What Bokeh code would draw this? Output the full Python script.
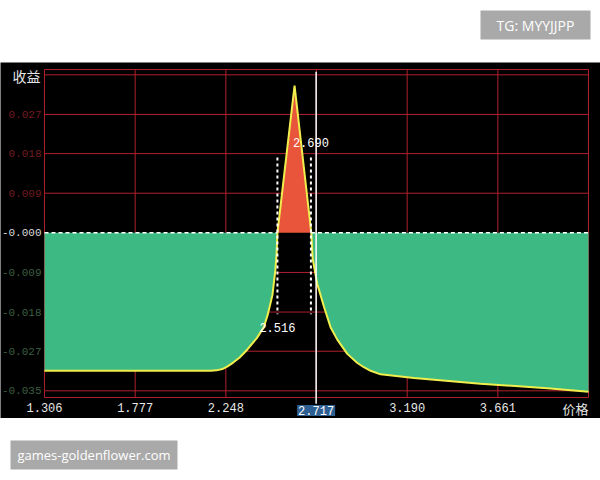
from bokeh.plotting import figure
from bokeh.models import Range1d, Label
from bokeh.layouts import column
from bokeh.embed import file_html
from bokeh.resources import INLINE
from bokeh.core.properties import value

# ---------------- data ----------------
price = [1.306, 2.100, 2.168, 2.200, 2.230, 2.257, 2.288, 2.320, 2.360, 2.410,
         2.445, 2.465, 2.490, 2.505, 2.512, 2.516, 2.605, 2.692, 2.699, 2.723,
         2.757, 2.792, 2.827, 2.879, 2.930, 2.965, 3.000, 3.052, 3.225, 3.571,
         3.918, 4.132]
profit = [-0.0310, -0.0310, -0.0310, -0.0309, -0.0306, -0.0300, -0.0291, -0.0280, -0.0262, -0.0236,
          -0.0212, -0.0185, -0.0140, -0.0085, -0.0045, 0.0000, 0.0331, 0.0000, -0.0058, -0.0115,
          -0.0165, -0.0212, -0.0240, -0.0272, -0.0292, -0.0302, -0.0310, -0.0318, -0.0326, -0.0339,
          -0.0349, -0.0357]
break_even = [2.516, 2.690]
current_price = 2.717
x_ticks = [1.306, 1.777, 2.248, 2.719, 3.190, 3.661, 4.132]
x_tick_labels = ["1.306", "1.777", "2.248", "", "3.190", "3.661", ""]
y_ticks = [0.0266, 0.0178, 0.0089, 0.0, -0.0089, -0.0178, -0.0266, -0.0355]
y_tick_labels = ["0.027", "0.018", "0.009", "-0.000", "-0.009", "-0.018", "-0.027", "-0.035"]
y_grid = [0.0367, 0.0355, 0.0266, 0.0178, 0.0089, -0.0089, -0.0178, -0.0266, -0.0355, -0.0370]
y_top, y_bottom = y_grid[0], y_grid[-1]     # chart box limits (profit)

# ---------------- style ----------------
GRID = "#b0202c"
GREEN = "#3dba84"
RED = "#e9553b"
YELLOW = "#f0ee4c"
MONO = "Liberation Mono"
CJK = "Noto Sans CJK SC"
XPX = 0.471 / 90.667      # price units per pixel
YPX = 1 / 4450.0          # profit units per pixel
x0, x1 = x_ticks[0], x_ticks[-1]

# black band: 600 x 356 px, chart box inside it
p = figure(width=600, height=356,
           x_range=Range1d(x0 - 44 * XPX, x1 + 12 * XPX),
           y_range=Range1d(y_bottom - 21 * YPX, y_top + 7 * YPX),
           output_backend="svg", toolbar_location=None, title=None,
           x_axis_location=None, y_axis_location=None, min_border=0,
           min_border_left=0, min_border_right=0, min_border_top=0, min_border_bottom=0,
           background_fill_color="black", border_fill_color="black",
           outline_line_color=None)
p.grid.visible = False

# grid lines limited to the chart box
p.segment(x0=[x0] * len(y_grid), x1=[x1] * len(y_grid), y0=y_grid, y1=y_grid,
          line_color=GRID, line_width=1)
p.segment(x0=x_ticks, x1=x_ticks, y0=[y_bottom] * len(x_ticks), y1=[y_top] * len(x_ticks),
          line_color=GRID, line_width=1)

# fills and curve
neg = [min(v, 0.0) for v in profit]
pos = [max(v, 0.0) for v in profit]
p.varea(x=price, y1=0, y2=neg, fill_color=GREEN)
p.varea(x=price, y1=0, y2=pos, fill_color=RED)
p.line(price, profit, line_color=YELLOW, line_width=2)

# zero dashed line over the loss area
p.segment(x0=[x0, break_even[1]], x1=[break_even[0], x1], y0=0, y1=0,
          line_color="white", line_width=1.5, line_dash="4 3")

# break-even markers
p.segment(x0=break_even, x1=break_even, y0=0.0169, y1=-0.0183,
          line_color="white", line_width=2, line_dash="3 3")
p.text(x=break_even, y=[-0.0212, 0.0202], text=[f"{v:.3f}" for v in break_even],
       text_align="center", text_baseline="middle", text_color="white",
       text_font=value(MONO), text_font_size="12px")

# current price line and highlighted label
p.segment(x0=[current_price], x1=[current_price], y0=0.0362, y1=-0.0384,
          line_color="white", line_width=1.5)
p.add_layout(Label(x=current_price, y=-0.03993, text=f"{current_price:.3f}",
                   text_align="center", text_baseline="middle", text_color="white",
                   text_font=MONO, text_font_size="12px",
                   background_fill_color="#2e5f92", padding=1))

# x tick labels
xl = [(t, l) for t, l in zip(x_ticks, x_tick_labels) if l]
p.text(x=[t for t, _ in xl], y=[-0.03926] * len(xl), text=[l for _, l in xl],
       text_align="center", text_baseline="middle", text_color="#e8e8e8",
       text_font=value(MONO), text_font_size="12px")

# y tick labels coloured by sign
ycolors = ["#741c22" if t > 0 else ("#dcdcdc" if t == 0 else "#3c5e40") for t in y_ticks]
p.text(x=[x0] * len(y_ticks), y=y_ticks, text=y_tick_labels, x_offset=-3,
       text_align="right", text_baseline="middle", text_color=ycolors,
       text_font=value(MONO), text_font_size="11px")

# axis names
p.text(x=[x0], y=[0.03524], text=["收益"], x_offset=-4, text_align="right",
       text_baseline="middle", text_color="#e6e6e6", text_font=value(CJK),
       text_font_size="14px")
p.text(x=[x1], y=[-0.03948], text=["价格"], text_align="right",
       text_baseline="middle", text_color="#e6e6e6", text_font=value(CJK),
       text_font_size="13px")


def deco(ytop, ybot):
    f = figure(width=600, height=62, x_range=Range1d(0, 600), y_range=Range1d(ybot, ytop),
               output_backend="svg", toolbar_location=None, title=None,
               x_axis_location=None, y_axis_location=None, min_border=0,
               min_border_left=0, min_border_right=0, min_border_top=0, min_border_bottom=0,
               background_fill_color="white", border_fill_color="white",
               outline_line_color=None)
    f.grid.visible = False
    return f


top = deco(0, 62)
top.quad(left=[480], right=[590], top=[10], bottom=[39], fill_color="#a9a9a9", line_color=None)
top.text(x=[535], y=[24.5], text=["TG: MYYJJPP"], text_align="center", text_baseline="middle",
         text_color="white", text_font=value("Open Sans"), text_font_size="14px")

bot = deco(418, 480)
bot.quad(left=[10], right=[177], top=[440], bottom=[469], fill_color="#a9a9a9", line_color=None)
bot.text(x=[93.5], y=[454.5], text=["games-goldenflower.com"], text_align="center",
         text_baseline="middle", text_color="white", text_font=value("Open Sans"),
         text_font_size="13px")

layout = column(top, p, bot, spacing=0)
open("out.html", "w").write(file_html(layout, INLINE))
